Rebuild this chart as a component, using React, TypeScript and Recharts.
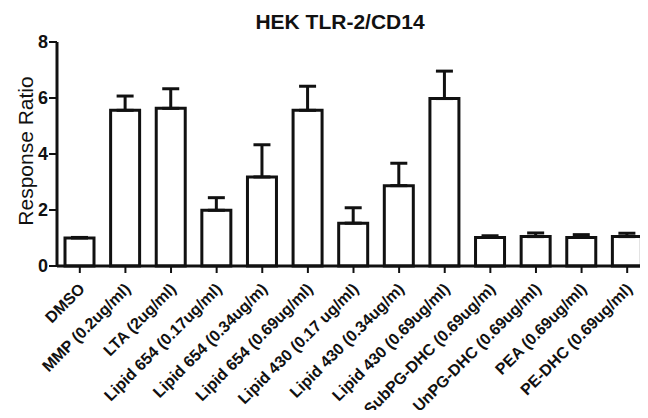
import React from 'react';
import { BarChart, Bar, XAxis, YAxis, ErrorBar } from 'recharts';

// --- dados ---
const categories = [
  'DMSO',
  'MMP (0.2ug/ml)',
  'LTA (2ug/ml)',
  'Lipid 654 (0.17ug/ml)',
  'Lipid 654 (0.34ug/m)',
  'Lipid 654 (0.69ug/ml)',
  'Lipid 430 (0.17 ug/ml)',
  'Lipid 430 (0.34ug/m)',
  'Lipid 430 (0.69ug/ml)',
  'SubPG-DHC (0.69ug/m)',
  'UnPG-DHC (0.69ug/ml)',
  'PEA (0.69ug/ml)',
  'PE-DHC (0.69ug/ml)',
];
const means = [1.0, 5.56, 5.63, 1.99, 3.18, 5.56, 1.53, 2.87, 5.98, 1.02, 1.05, 1.02, 1.05];
const errors = [0.02, 0.51, 0.7, 0.45, 1.15, 0.86, 0.55, 0.8, 0.98, 0.06, 0.13, 0.1, 0.12];
const yTicks = [0, 2, 4, 6, 8];

const data = categories.map((name, i) => ({ name, value: means[i], err: [0, errors[i]] }));

const FONT = '"Liberation Sans", Arial, Helvetica, sans-serif';
const INK = '#111';

// rótulo inclinado a 45°, terminando logo abaixo do traço
const AngledTick = ({ x, y, payload }: any) => (
  <g transform={`translate(${x + 6},${y + 15})`}>
    <text x={0} y={0} textAnchor="end" transform="rotate(-45)" fontFamily={FONT}
      fontSize={16} fontWeight="bold" fill={INK}>
      {payload.value}
    </text>
  </g>
);

export default function App() {
  return (
    <div style={{ margin: -8, width: 648, height: 418, overflow: 'hidden', position: 'relative', background: '#fff' }}>
      <BarChart width={650} height={418} data={data}
        margin={{ top: 42, right: 0, bottom: 0, left: 0 }}>
        <XAxis dataKey="name" interval={0} height={152} tick={<AngledTick />}
          axisLine={{ stroke: INK, strokeWidth: 3 }}
          tickLine={{ stroke: INK, strokeWidth: 2 }} tickSize={7} tickMargin={2} />
        <YAxis domain={[0, 8]} ticks={yTicks} width={57} tickSize={8} tickMargin={1}
          axisLine={{ stroke: INK, strokeWidth: 3 }}
          tickLine={{ stroke: INK, strokeWidth: 2 }}
          tick={{ fontFamily: FONT, fontSize: 18, fontWeight: 'bold', fill: INK }} />
        <Bar dataKey="value" barSize={29} fill="#fff" stroke={INK} strokeWidth={3}
          isAnimationActive={false}>
          <ErrorBar dataKey="err" width={8.5} stroke={INK} strokeWidth={3} isAnimationActive={false} />
        </Bar>
      </BarChart>
      <svg width={648} height={418} style={{ position: 'absolute', left: 0, top: 0, pointerEvents: 'none' }}>
        <text x={340} y={29} textAnchor="middle" fontFamily={FONT} fontSize={21} fontWeight="bold" fill={INK}>
          HEK TLR-2/CD14
        </text>
        <text x={33} y={151} textAnchor="middle" transform="rotate(-90, 33, 151)" fontFamily={FONT}
          fontSize={21} fill={INK}>
          Response Ratio
        </text>
      </svg>
    </div>
  );
}
